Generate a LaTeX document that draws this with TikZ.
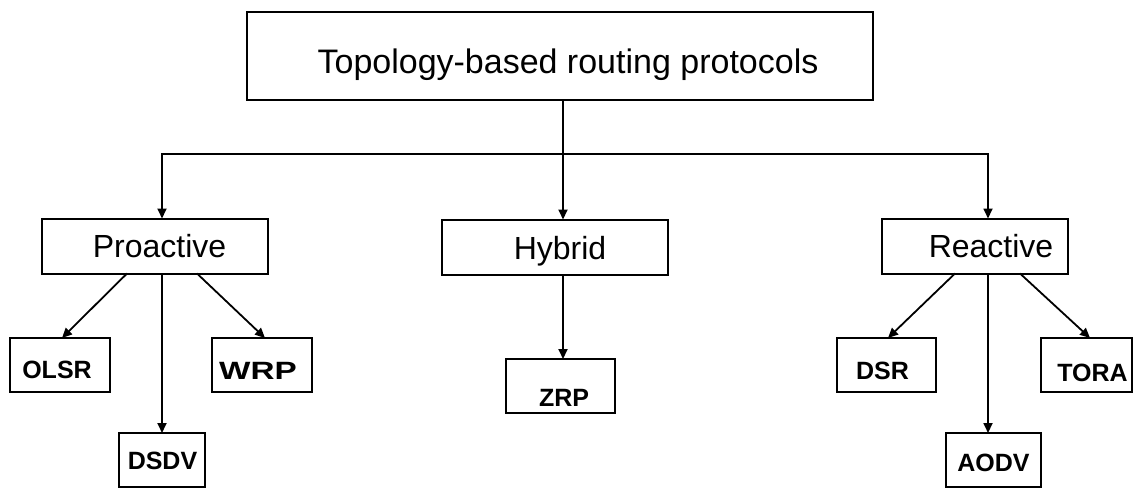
\documentclass[tikz,border=0pt]{standalone}
\usepackage{fontspec}
\usepackage{graphicx}
\setmainfont{Liberation Sans}
\usetikzlibrary{arrows.meta}
% place a label inside its box: horizontal offset (twice the shift), vertical raise
\newcommand{\placetext}[3]{\hspace*{#1}\raisebox{#2}{#3}}
\tikzset{
  box/.style={draw=black, line width=2pt, inner sep=0pt, outer sep=0pt, fill=white},
  rootbox/.style={box, font=\fontsize{34}{40}\selectfont, text height=24.3pt, text depth=0pt},
  midbox/.style={box, minimum height=55pt, font=\fontsize{32}{38}\selectfont, text height=22.9pt, text depth=0pt},
  leafbox/.style={box, minimum height=54pt, font=\fontsize{25}{30}\selectfont\bfseries, text height=17.9pt, text depth=0pt},
  tip/.tip={Triangle[length=10pt,width=9pt]},
  link/.style={line width=1.8pt, -tip},
}
\begin{document}
\begin{tikzpicture}[x=1pt,y=-1pt]
\useasboundingbox (0,0) rectangle (1142,492);

% root
\node[rootbox, minimum width=626pt, minimum height=88pt] (root) at (560,56)
  {\placetext{16pt}{-5pt}{Topology-based routing protocols}};

% categories
\node[midbox, minimum width=226pt] (pro) at (155,246) {\placetext{9pt}{0pt}{Proactive}};
\node[midbox, minimum width=226pt] (hyb) at (555,247) {\placetext{10pt}{-1.5pt}{Hybrid}};
\node[midbox, minimum width=186pt] (rea) at (975,246) {\placetext{32pt}{0pt}{Reactive}};

% protocols
\node[leafbox, minimum width=100pt] (olsr) at (60,365)   {\placetext{-6pt}{-5pt}{OLSR}};
\node[leafbox, minimum width=100pt] (wrp)  at (262,365)  {\placetext{-8pt}{-5.5pt}{\scalebox{1.33}[1]{WRP}}};
\node[leafbox, minimum width=86pt]  (dsdv) at (162,460)  {\placetext{1pt}{-1pt}{DSDV}};
\node[leafbox, minimum width=109pt] (zrp)  at (560.5,386){\placetext{7pt}{-11.5pt}{ZRP}};
\node[leafbox, minimum width=99pt]  (dsr)  at (886.5,365){\placetext{-8pt}{-6pt}{DSR}};
\node[leafbox, minimum width=91pt]  (tora) at (1086.5,365){\placetext{12pt}{-7.5pt}{TORA}};
\node[leafbox, minimum width=95pt]  (aodv) at (993.5,460){\placetext{0pt}{-3pt}{AODV}};

% distribution bar
\coordinate (stem) at (563,100);
\coordinate (jl) at (162,154);
\coordinate (jr) at (988,154);
\draw[line width=1.8pt, tip-tip, line join=miter] (jl |- pro.north) -- (jl) -- (jr) -- (jr |- rea.north);
\draw[link] (stem) -- (stem |- hyb.north);
\draw[link] (stem |- hyb.south) -- (stem |- zrp.north);

% proactive branch
\draw[link] ([xshift=-28pt]pro.south) -- ([xshift=2pt]olsr.north);
\draw[link] ([xshift=42pt]pro.south) -- ([xshift=3pt]wrp.north);
\draw[link] (dsdv.north |- pro.south) -- (dsdv.north);

% reactive branch
\draw[link] ([xshift=-20pt]rea.south) -- ([xshift=1.5pt]dsr.north);
\draw[link] ([xshift=45pt]rea.south) -- ([xshift=3.5pt]tora.north);
\draw[link] ([xshift=-5.5pt]aodv.north |- rea.south) -- ([xshift=-5.5pt]aodv.north);
\end{tikzpicture}
\end{document}
